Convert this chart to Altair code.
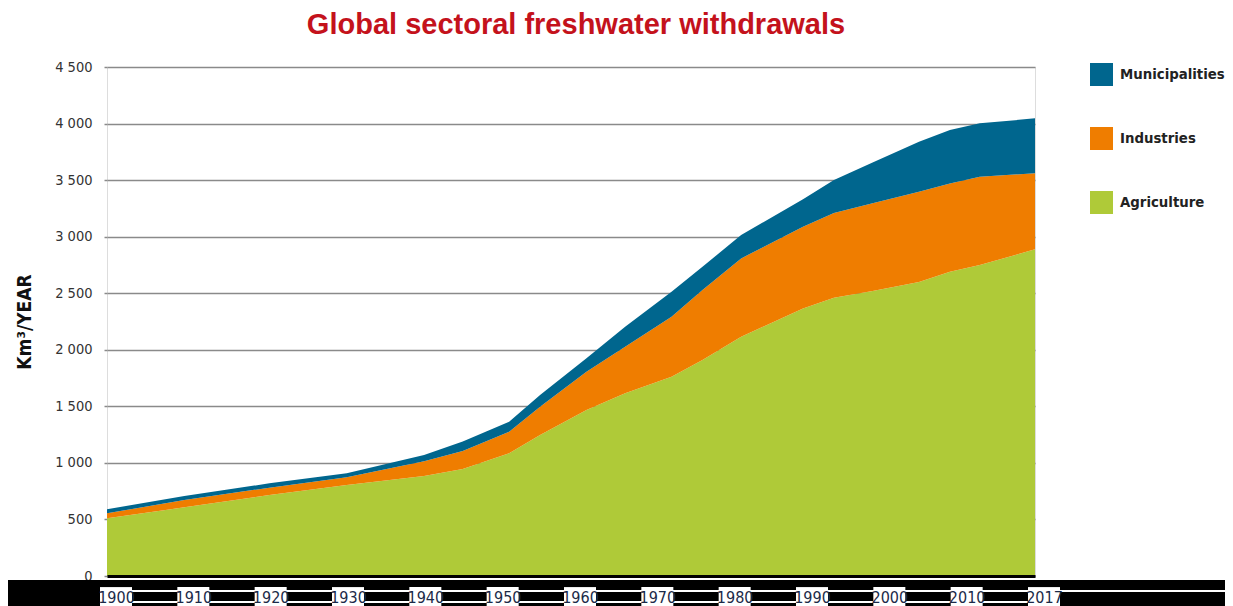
import altair as alt
import numpy as np
import pandas as pd

# ---- data ----
years = [1900, 1910, 1921, 1931, 1941, 1946, 1952, 1956, 1962, 1967, 1973, 1977,
         1982, 1990, 1994, 1999, 2005, 2009, 2012, 2017]
agriculture = [510, 607, 716, 804, 885, 945, 1085, 1246, 1467, 1615, 1762, 1909,
               2115, 2366, 2460, 2520, 2600, 2690, 2750, 2888]
industries = [44, 65, 65, 68, 130, 160, 191, 251, 339, 412, 530, 619,
              693, 722, 750, 775, 797, 781, 780, 672]
municipalities = [36, 35, 38, 36, 55, 85, 88, 103, 118, 177, 221, 206,
                  206, 242, 290, 360, 443, 472, 472, 486]

tick_labels = ["1900", "1910", "1920", "1930", "1940", "1950", "1960",
               "1970", "1980", "1990", "2000", "2010", "2017"]
y_ticks = [0, 500, 1000, 1500, 2000, 2500, 3000, 3500, 4000, 4500]
sectors = ["Municipalities", "Industries", "Agriculture"]
colors = ["#00668e", "#ef7d00", "#afca38"]
stack_rank = {"Agriculture": 0, "Industries": 1, "Municipalities": 2}

# the original axis spaces its labels evenly (2017 takes a full slot)
tick_years = [int(t) for t in tick_labels]
tick_index = list(range(len(tick_labels)))

rows = []
for i, yr in enumerate(years):
    pos = float(np.interp(yr, tick_years, tick_index))
    for name, series in (("Agriculture", agriculture), ("Industries", industries),
                         ("Municipalities", municipalities)):
        rows.append({"idx": pos, "year": yr, "sector": name,
                     "value": series[i], "rank": stack_rank[name]})
df = pd.DataFrame(rows)
ticks_df = pd.DataFrame({"idx": tick_index})
one = pd.DataFrame({"a": [0]})

W, H = 928, 509
PAD_R = 190
NARROW = "DejaVu Sans Condensed, Liberation Sans, sans-serif"
label_expr = "[" + ",".join("'%s'" % t for t in tick_labels) + "][datum.value]"

x_enc = alt.X(
    "idx:Q",
    scale=alt.Scale(domain=[0, len(tick_labels) - 1], nice=False, zero=False),
    axis=alt.Axis(values=tick_index, labelExpr=label_expr, title=None, grid=False,
                  ticks=False, domainColor="#000000", domainWidth=3,
                  labelFont=NARROW, labelFontSize=16, labelColor="#1b2a48",
                  labelPadding=21, labelBaseline="middle", labelOffset=9,
                  labelFlush=False, labelOverlap=False, zindex=1),
)

area = alt.Chart(df).mark_area(interpolate="linear").encode(
    x=x_enc,
    y=alt.Y(
        "value:Q", stack="zero",
        scale=alt.Scale(domain=[0, 4500], nice=False),
        axis=alt.Axis(values=y_ticks,
                      labelExpr="replace(format(datum.value, ','), ',', ' ')",
                      title="Km³/YEAR", titleFont=NARROW, titleFontSize=19,
                      titleFontWeight="bold", titleColor="#111111",
                      titleAngle=270, titleX=-83, titleY=H / 2,
                      titleAlign="center", titleBaseline="middle",
                      grid=True, gridColor="#8a8a8a", gridWidth=1.5,
                      domain=False, ticks=True, tickSize=3, tickColor="#8a8a8a",
                      tickWidth=1.5, labelPadding=12, labelFont=NARROW,
                      labelFontSize=14.5, labelColor="#333333"),
    ),
    color=alt.Color(
        "sector:N",
        scale=alt.Scale(domain=sectors, range=colors),
        legend=alt.Legend(title=None, orient="none", legendX=983, legendY=-4,
                          symbolType="square", symbolSize=529, symbolStrokeWidth=0,
                          symbolOpacity=1, labelFont=NARROW, labelFontSize=14.8,
                          labelFontWeight="bold", labelColor="#222222",
                          labelOffset=7, rowPadding=41, labelLimit=220),
    ),
    order=alt.Order("rank:Q"),
)

band = alt.Chart(one).mark_rect(color="#000000").encode(
    x=alt.value(-99), x2=alt.value(W + PAD_R),
    y=alt.value(H + 4), y2=alt.value(H + 31),
)
rule1 = alt.Chart(one).mark_rule(color="#ffffff", strokeWidth=2).encode(
    x=alt.value(-4), x2=alt.value(W + PAD_R), y=alt.value(H + 15),
)
rule2 = alt.Chart(one).mark_rule(color="#ffffff", strokeWidth=2).encode(
    x=alt.value(-4), x2=alt.value(W + 10), y=alt.value(H + 26),
)
boxes = alt.Chart(ticks_df).mark_point(
    shape="M-1,-0.62H1V0.62H-1Z", size=1024, filled=True, fill="#ffffff",
    opacity=1, strokeWidth=0, xOffset=9,
).encode(x="idx:Q", y=alt.value(H + 21))

chart = alt.layer(area, band, rule1, rule2, boxes).properties(
    width=W, height=H,
    title=alt.Title("Global sectoral freshwater withdrawals", font="Liberation Sans",
                    fontSize=29, fontWeight="bold", color="#c4121c",
                    anchor="middle", offset=19, dx=5),
    autosize=alt.AutoSizeParams(type="none"),
    padding={"left": 99, "top": 59, "right": PAD_R, "bottom": 30},
).configure_view(strokeWidth=0).configure(background="#ffffff")

chart.save("out.html", embed_options={"renderer": "svg", "actions": False})
